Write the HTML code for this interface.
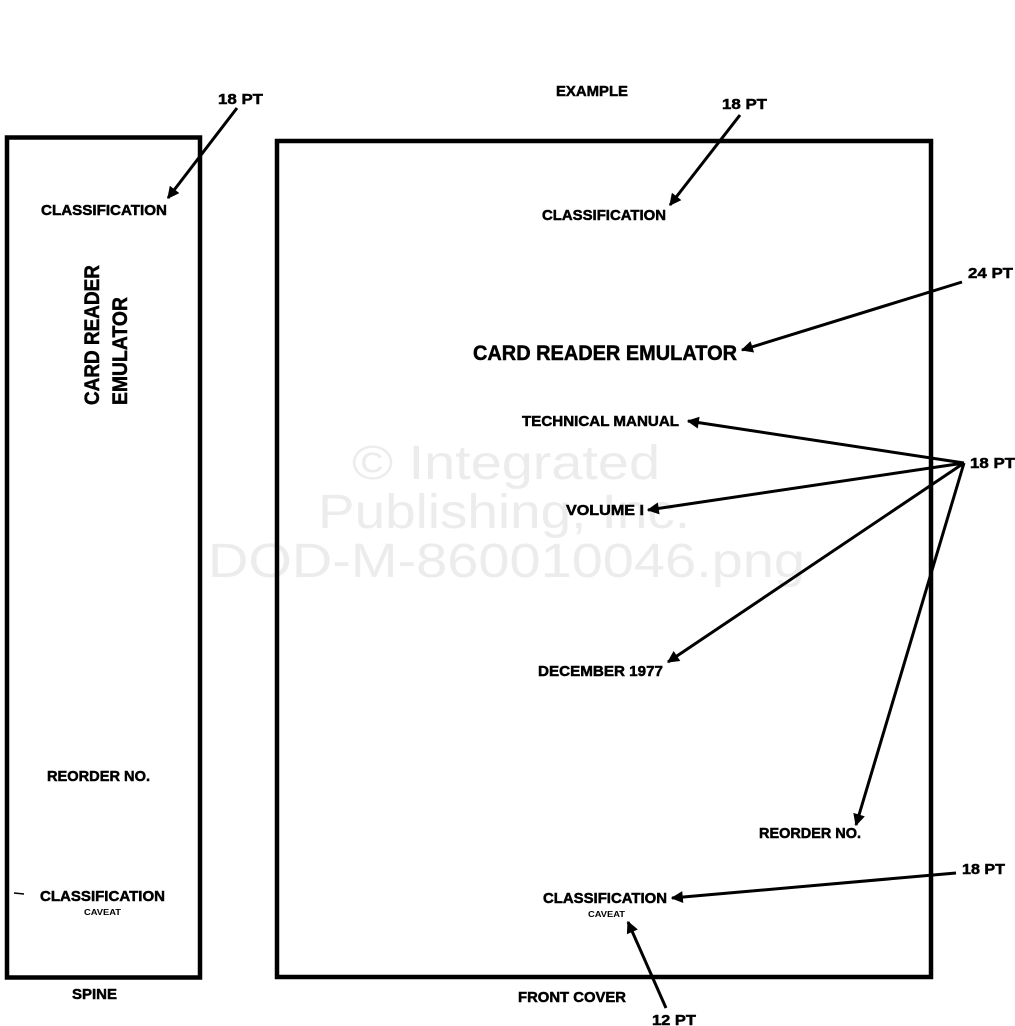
<!DOCTYPE html>
<html><head><meta charset="utf-8"><style>
html,body{margin:0;padding:0;background:#fff;}
svg{display:block}
text{font-family:"Liberation Sans Narrow","Liberation Sans",sans-serif;font-weight:bold;fill:#000}
.w{font-family:"Liberation Sans",sans-serif;font-weight:normal;fill:#ececec;font-size:48px}
.l text{stroke:#000;stroke-width:0.5}
</style></head><body>
<svg width="1015" height="1026" viewBox="0 0 1015 1026" xmlns="http://www.w3.org/2000/svg">
<defs><marker id="a" viewBox="0 0 10 10" refX="9" refY="5" markerWidth="5" markerHeight="4" orient="auto" markerUnits="strokeWidth"><path d="M0,0 L10,5 L0,10 z" fill="#000"/></marker></defs>
<text class="w" x="352" y="479" textLength="308" lengthAdjust="spacingAndGlyphs">© Integrated</text>
<text class="w" x="318" y="528" textLength="372" lengthAdjust="spacingAndGlyphs">Publishing, Inc.</text>
<text class="w" x="208" y="577" textLength="597" lengthAdjust="spacingAndGlyphs">DOD-M-860010046.png</text>
<rect x="7" y="137.5" width="193" height="840" fill="none" stroke="#000" stroke-width="4.5"/>
<rect x="277" y="141" width="654" height="836" fill="none" stroke="#000" stroke-width="4.5"/>
<g stroke="#000" stroke-width="3" fill="none" marker-end="url(#a)">
<line x1="237" y1="108" x2="168" y2="198"/>
<line x1="740" y1="115" x2="670" y2="205"/>
<line x1="962" y1="282" x2="742" y2="350"/>
<line x1="964" y1="463" x2="688" y2="421"/>
<line x1="964" y1="463" x2="648" y2="510"/>
<line x1="964" y1="463" x2="668" y2="662"/>
<line x1="964" y1="463" x2="856" y2="825"/>
<line x1="956" y1="873" x2="672" y2="898"/>
<line x1="666" y1="1008" x2="628" y2="922"/>
</g>
<g font-size="15" class="l">
<text x="218" y="104" textLength="45" lengthAdjust="spacingAndGlyphs">18 PT</text>
<text x="41" y="215" textLength="126" lengthAdjust="spacingAndGlyphs">CLASSIFICATION</text>
<text x="47" y="781" textLength="103" lengthAdjust="spacingAndGlyphs">REORDER NO.</text>
<text x="40" y="901" textLength="125" lengthAdjust="spacingAndGlyphs">CLASSIFICATION</text>
<text x="72" y="999" textLength="45" lengthAdjust="spacingAndGlyphs">SPINE</text>
<text x="556" y="96" textLength="72" lengthAdjust="spacingAndGlyphs">EXAMPLE</text>
<text x="722" y="109" textLength="45" lengthAdjust="spacingAndGlyphs">18 PT</text>
<text x="542" y="220" textLength="124" lengthAdjust="spacingAndGlyphs">CLASSIFICATION</text>
<text x="968" y="278" textLength="45" lengthAdjust="spacingAndGlyphs">24 PT</text>
<text x="522" y="426" textLength="157" lengthAdjust="spacingAndGlyphs">TECHNICAL MANUAL</text>
<text x="970" y="468" textLength="45" lengthAdjust="spacingAndGlyphs">18 PT</text>
<text x="566" y="515" textLength="78" lengthAdjust="spacingAndGlyphs">VOLUME I</text>
<text x="538" y="676" textLength="125" lengthAdjust="spacingAndGlyphs">DECEMBER 1977</text>
<text x="759" y="838" textLength="102" lengthAdjust="spacingAndGlyphs">REORDER NO.</text>
<text x="962" y="874" textLength="43" lengthAdjust="spacingAndGlyphs">18 PT</text>
<text x="543" y="903" textLength="124" lengthAdjust="spacingAndGlyphs">CLASSIFICATION</text>
<text x="518" y="1002" textLength="108" lengthAdjust="spacingAndGlyphs">FRONT COVER</text>
<text x="652" y="1025" textLength="44" lengthAdjust="spacingAndGlyphs">12 PT</text>
</g>
<g font-size="8">
<text x="84" y="915" textLength="37" lengthAdjust="spacingAndGlyphs">CAVEAT</text>
<text x="588" y="917" textLength="37" lengthAdjust="spacingAndGlyphs">CAVEAT</text>
</g>
<g class="l">
<text x="473" y="360" font-size="21" textLength="264" lengthAdjust="spacingAndGlyphs">CARD READER EMULATOR</text>
<text transform="translate(99,405) rotate(-90)" font-size="21" textLength="140" lengthAdjust="spacingAndGlyphs">CARD READER</text>
<text transform="translate(127,405) rotate(-90)" font-size="21" textLength="108" lengthAdjust="spacingAndGlyphs">EMULATOR</text>
</g>
<line x1="14" y1="893" x2="24" y2="894" stroke="#000" stroke-width="1.5"/>
</svg>
</body></html>
